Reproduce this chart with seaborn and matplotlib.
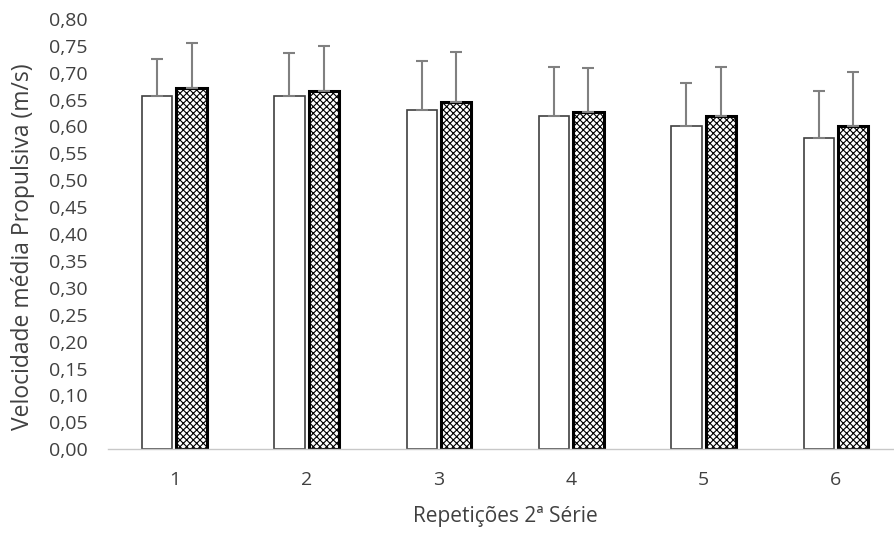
import matplotlib
matplotlib.use("Agg")
import matplotlib.pyplot as plt
import matplotlib.ticker as mticker
import seaborn as sns
import numpy as np
import pandas as pd

# Dados (média e desvio, só para cima)
repeticoes = ["1", "2", "3", "4", "5", "6"]
grupo_a = [0.657, 0.656, 0.631, 0.619, 0.600, 0.578]
grupo_a_dp = [0.069, 0.080, 0.090, 0.091, 0.080, 0.088]
grupo_b = [0.672, 0.665, 0.646, 0.627, 0.620, 0.600]
grupo_b_dp = [0.083, 0.085, 0.092, 0.082, 0.090, 0.102]
series = ["A", "B"]

df = pd.DataFrame({
    "rep": repeticoes * 2,
    "vmp": grupo_a + grupo_b,
    "serie": [series[0]] * 6 + [series[1]] * 6,
})

sns.set_style("white")
plt.rcParams["font.family"] = ["Open Sans", "DejaVu Sans"]
plt.rcParams["hatch.linewidth"] = 0.8

fig = plt.figure(figsize=(8.94, 5.38), dpi=100)
ax = fig.add_axes([0.121, 0.165, 0.888, 0.8])

sns.barplot(data=df, x="rep", y="vmp", hue="serie", order=repeticoes,
            hue_order=series, palette=["white", "white"], width=0.52,
            gap=0.12, errorbar=None, legend=False, ax=ax)

n = len(repeticoes)
bars_a = ax.patches[:n]
bars_b = ax.patches[n:2 * n]
for p in bars_a:
    p.set_edgecolor("#404040")
    p.set_linewidth(1.2)
for p in bars_b:
    p.set_edgecolor("black")
    p.set_hatch("xxxxx")
    p.set_linewidth(2.2)

# barras de erro (apenas positivas)
for bars, vals, dp in [(bars_a, grupo_a, grupo_a_dp), (bars_b, grupo_b, grupo_b_dp)]:
    xs = [p.get_x() + p.get_width() / 2 for p in bars]
    ax.errorbar(xs, vals, yerr=[np.zeros(n), dp], fmt="none",
                ecolor="#808080", elinewidth=1.5, capsize=4.5, capthick=1.5)

ax.set_ylim(0, 0.8)
ax.set_xlim(-0.5, 5.5)
ax.set_yticks(np.arange(0, 0.801, 0.05))
ax.yaxis.set_major_formatter(mticker.FuncFormatter(lambda v, pos: f"{v:.2f}".replace(".", ",")))

for s in ["top", "right", "left"]:
    ax.spines[s].set_visible(False)
ax.spines["bottom"].set_color("#c8c8c8")
ax.spines["bottom"].set_linewidth(1.0)

ax.set_xticks(np.arange(-0.5, 6, 1), minor=True)
ax.tick_params(axis="x", which="minor", length=7, color="#c8c8c8", width=1.0)
ax.tick_params(axis="x", which="major", length=0, pad=16, labelsize=14, labelcolor="#404040")
ax.tick_params(axis="y", length=0, pad=15, labelsize=14, labelcolor="#404040")

ax.set_xlabel("Repetições 2ª Série", fontsize=15, color="#404040", labelpad=12)
ax.set_ylabel("Velocidade média Propulsiva (m/s)", fontsize=16.5, color="#404040")
ax.yaxis.set_label_coords(-0.092, 0.47)

fig.savefig("out.png", dpi=100)
